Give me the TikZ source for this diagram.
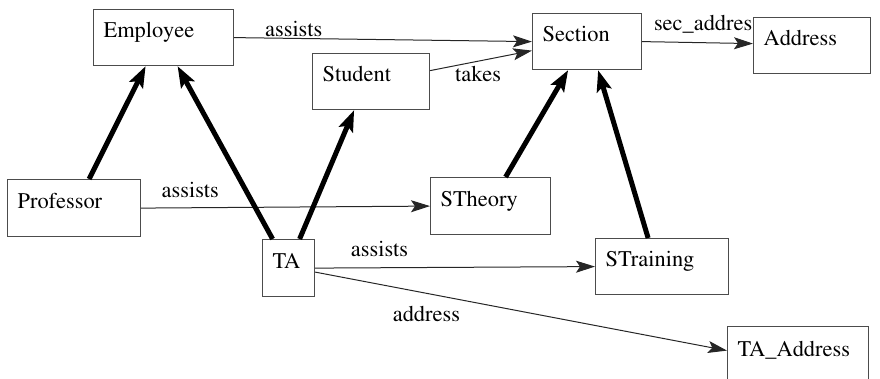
\documentclass[tikz,border=0pt]{standalone}
\usepackage[T1]{fontenc}
\usepackage{mathptmx}
\usetikzlibrary{arrows.meta}

\begin{document}
\begin{tikzpicture}[x=1pt,y=-1pt,
    box/.style={draw=black!70, line width=1.2pt, anchor=north west, align=left,
      inner xsep=10pt, inner ysep=0pt, text height=12pt, text depth=12pt,
      font=\fontsize{22.4}{26}\selectfont},
    rel/.style={draw=black!85, line width=1pt, -{Stealth[length=19pt,width=12pt,inset=4pt]}},
    isa/.style={line width=5pt, -{Stealth[length=21pt,width=15pt,inset=4pt]}},
    lbl/.style={inner sep=1pt, font=\fontsize{22.4}{26}\selectfont}]
        \useasboundingbox (0,0) rectangle (880,379);
        \clip (0,0) rectangle (880,379);

        % Define the boxes (name/left/top/text width/height/text)
        \foreach \name/\x/\y/\w/\h/\txt in {emp/93/9/120/56/Employee,
            stu/312/53/97/56/Student, sec/532/13/89/56/Section,
            adr/753/17/97/56/Address, prof/7/179/113/57/Professor,
            sth/430/177/100/57/STheory, ta/262/239/32/57/TA,
            str/595/238/113/56/STraining, tad/727/326/121/60/TA\_Address}
        \node[box, text width=\w pt, minimum height=\h pt] (\name) at (\x,\y) {\txt};

        % Draw the relations
        \draw[rel] (emp.east) -- (sec.west) node[lbl, pos=0.2, above] {assists};
        \draw[rel] ([yshift=11pt]stu.east) -- ([yshift=-9pt]sec.west)
            node[lbl, pos=0.47, below=4pt] {takes};
        \draw[rel] (sec.east) -- ([yshift=2pt]adr.west) node[lbl, pos=0.55, above=8pt] {sec\_addres};
        \draw[rel] (prof.east) -- (sth.west) node[lbl, pos=0.17, above=9pt] {assists};
        \draw[rel] (ta.east) -- (str.west) node[lbl, pos=0.23, above=10pt] {assists};
        \draw[rel] ([yshift=-4pt]ta.east) -- ([yshift=6pt]tad.west)
            node[lbl, pos=0.27, below=12pt] {address};

        % Draw the inheritance arrows
        \draw[isa] ([xshift=15pt]prof.north) -- ([xshift=-18pt]emp.south);
        \draw[isa] ([xshift=-16pt]ta.north) -- ([xshift=14pt]emp.south);
        \draw[isa] ([xshift=11pt]ta.north) -- ([xshift=-17pt]stu.south);
        \draw[isa] ([xshift=15pt]sth.north) -- ([xshift=-19pt]sec.south);
        \draw[isa] ([xshift=-14pt]str.north) -- ([xshift=11pt]sec.south);
\end{tikzpicture}
\end{document}
